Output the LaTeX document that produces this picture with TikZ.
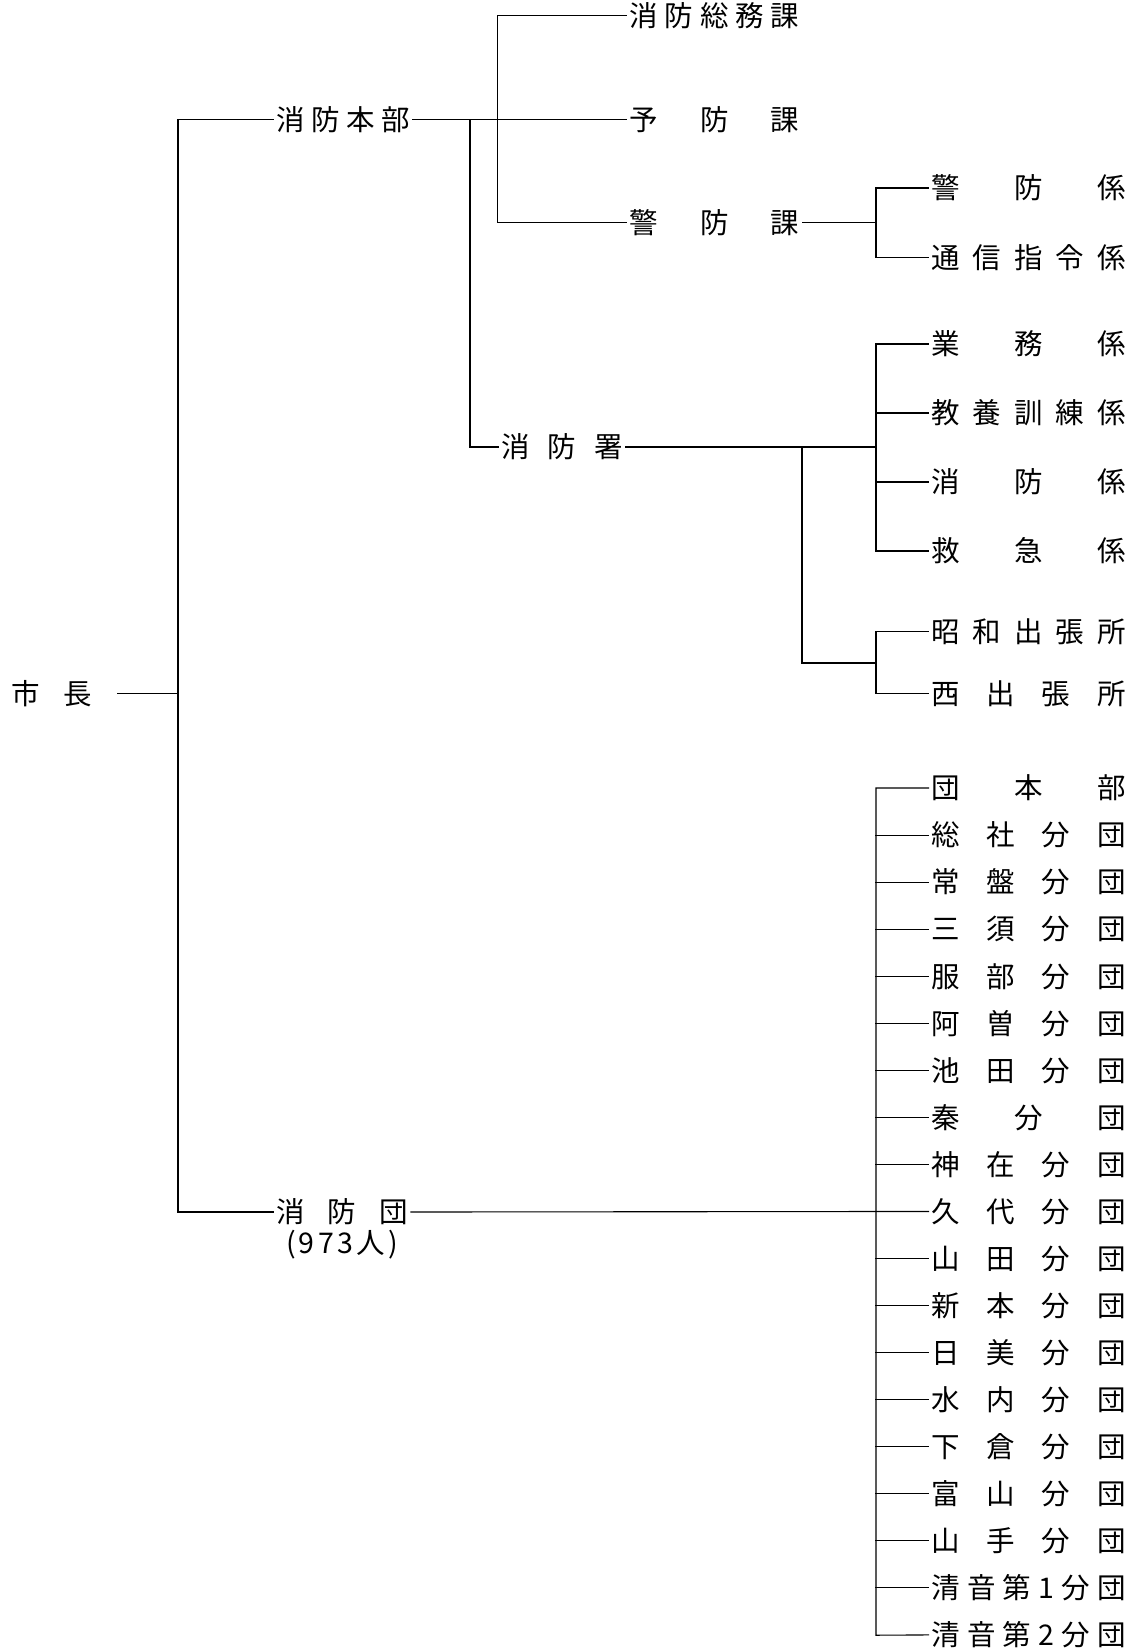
\documentclass[tikz,border=0pt]{standalone}
\usepackage{fontspec}
\newfontfamily\jp{Noto Sans CJK JP}
\newcommand{\gp}{\hfill}
\newcommand{\jbox}[2]{\makebox[#1pt][s]{#2}}
\begin{document}
\begin{tikzpicture}[x=1pt,y=-1pt,
  lbl/.style={anchor=west, inner sep=0pt, outer sep=0pt, outer xsep=3pt,
    font=\jp\fontsize{28.5}{31}\selectfont, text height=25pt, text depth=3.4pt},
  conn/.style={line width=1.1pt, line cap=rect}]
\useasboundingbox (0,0) rectangle (1130,1651);
% column A
\node[lbl] (mayor) at (8.5,693.5) {\jbox{81}{市\gp 長}};
\node[lbl] (hq) at (273,119.4) {\jbox{134}{消\gp 防\gp 本\gp 部}};
\node[lbl] (stn) at (498,447) {\jbox{122}{消\gp 防\gp 署}};
\node[lbl] (corps) at (273,1212) {\jbox{132}{消\gp 防\gp 団}};
\node[lbl, anchor=center] (count) at (342,1243) {\jbox{112}{(\gp 9\gp 7\gp 3\gp 人\gp )}};
% column B
\node[lbl] (somu) at (626.5,15.6) {\jbox{170}{消\gp 防\gp 総\gp 務\gp 課}};
\node[lbl] (yobo) at (626.5,119.4) {\jbox{170}{予\gp 防\gp 課}};
\node[lbl] (keibo) at (626.5,222.8) {\jbox{170}{警\gp 防\gp 課}};
% column C upper
\node[lbl] (c1) at (928.5,188) {\jbox{194}{警\gp 防\gp 係}};
\node[lbl] (c2) at (928.5,257.6) {\jbox{194}{通\gp 信\gp 指\gp 令\gp 係}};
\node[lbl] (c3) at (928.5,344) {\jbox{194}{業\gp 務\gp 係}};
\node[lbl] (c4) at (928.5,413) {\jbox{194}{教\gp 養\gp 訓\gp 練\gp 係}};
\node[lbl] (c5) at (928.5,482) {\jbox{194}{消\gp 防\gp 係}};
\node[lbl] (c6) at (928.5,551) {\jbox{194}{救\gp 急\gp 係}};
\node[lbl] (c7) at (928.5,631.5) {\jbox{194}{昭\gp 和\gp 出\gp 張\gp 所}};
\node[lbl] (c8) at (928.5,693.5) {\jbox{194}{西\gp 出\gp 張\gp 所}};
% column C lower
\foreach \t [count=\i from 0] in {
  {団\gp 本\gp 部},{総\gp 社\gp 分\gp 団},{常\gp 盤\gp 分\gp 団},{三\gp 須\gp 分\gp 団},
  {服\gp 部\gp 分\gp 団},{阿\gp 曽\gp 分\gp 団},{池\gp 田\gp 分\gp 団},{秦\gp 分\gp 団},
  {神\gp 在\gp 分\gp 団},{久\gp 代\gp 分\gp 団},{山\gp 田\gp 分\gp 団},{新\gp 本\gp 分\gp 団},
  {日\gp 美\gp 分\gp 団},{水\gp 内\gp 分\gp 団},{下\gp 倉\gp 分\gp 団},{富\gp 山\gp 分\gp 団},
  {山\gp 手\gp 分\gp 団},{清\gp 音\gp 第\gp 1\gp 分\gp 団},{清\gp 音\gp 第\gp 2\gp 分\gp 団}}
  \node[lbl] (d\i) at (928.5,788+47.05*\i) {\jbox{194}{\t}};
% junction coordinates
\coordinate (trunkT) at (178,119.4);
\coordinate (trunkM) at (178,693.5);
\coordinate (trunkB) at (178,1212);
\coordinate (hqJ1) at (470,119.4);
\coordinate (hqJ1b) at (470,447);
\coordinate (bT) at (497.5,15.6);
\coordinate (bB) at (497.5,222.8);
\coordinate (kJ) at (876,222.8);
\coordinate (kT) at (876,188);
\coordinate (kB) at (876,257.6);
\coordinate (sJ) at (876,447);
\coordinate (sT) at (876,344);
\coordinate (sB) at (876,551);
\coordinate (oA) at (802,447);
\coordinate (oB) at (802,663);
\coordinate (oJ) at (876,663);
\coordinate (oT) at (876,631.5);
\coordinate (oE) at (876,693.5);
\coordinate (dT) at (876,788);
\coordinate (dB) at (876,1635.2);
% connectors
\draw[conn] ([xshift=22pt]mayor.east) -- (trunkM);
\draw[conn] (trunkT) -- (trunkB);
\draw[conn] (trunkT) -- (hq.west);
\draw[conn] (trunkB) -- (corps.west);
\draw[conn] (hq.east) -- (yobo.west);
\draw[conn] (hqJ1) -- (hqJ1b) -- (stn.west);
\draw[conn] (somu.west) -- (bT) -- (bB) -- (keibo.west);
\draw[conn] (keibo.east) -- (kJ);
\draw[conn] (c1.west) -- (kT) -- (kB) -- (c2.west);
\draw[conn] (stn.east) -- (sJ);
\draw[conn] (c3.west) -- (sT) -- (sB) -- (c6.west);
\draw[conn] (c4.west) -- (sT |- c4.west);
\draw[conn] (c5.west) -- (sT |- c5.west);
\draw[conn] (oA) -- (oB) -- (oJ);
\draw[conn] (c7.west) -- (oT) -- (oE) -- (c8.west);
\draw[conn] (d0.west) -- (dT) -- (dB) -- (d18.west);
\foreach \i in {1,...,17} \draw[conn] (d\i.west) -- (dT |- d\i.west);
\draw[conn] (corps.east) -- (d9.west);
\end{tikzpicture}
\end{document}
